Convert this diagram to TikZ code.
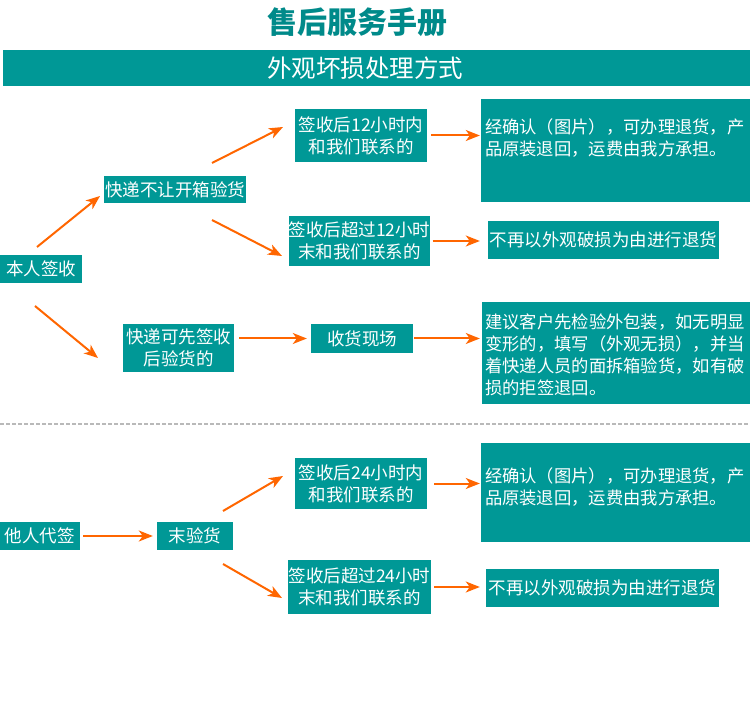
\documentclass[tikz,border=0pt]{standalone}
\usepackage{fontspec}
\setmainfont{Noto Sans CJK SC}
\usetikzlibrary{arrows.meta,calc}
\definecolor{tealbox}{RGB}{0,152,150}
\definecolor{titleteal}{RGB}{0,138,138}
\definecolor{arroworange}{RGB}{255,102,0}
\begin{document}
\begin{tikzpicture}[x=1pt,y=-1pt,
  box/.style={fill=tealbox, text=white, inner sep=0pt, font=\fontsize{17.5}{22}\selectfont, align=center},
  plain/.style={text=white, inner sep=0pt, font=\fontsize{17.3}{22}\selectfont, align=left},
  arr/.style={draw=arroworange, line width=2pt, -{Stealth[length=14pt,width=11pt,inset=4pt]}}]
\useasboundingbox[fill=white] (0,0) rectangle (750,727);
% title
\node[text=titleteal, font=\fontsize{30}{34}\selectfont\bfseries] (title) at (357,22) {售后服务手册};
% banner
\node[fill=tealbox, minimum width=747, minimum height=36, inner sep=0pt] (banner) at (376.5,68) {};
\node[text=white, font=\fontsize{24.5}{28}\selectfont, inner sep=0pt] (bannertext) at (365,68) {外观坏损处理方式};
% upper section
\node[box, minimum width=82, minimum height=28] (n1) at (41,269) {本人签收};
\node[box, minimum width=142, minimum height=27] (n2) at (175,189.5) {快递不让开箱验货};
\node[box, minimum width=132, minimum height=53] (n3) at (361,135.5) {签收后12小时内\\和我们联系的};
\node[box, minimum width=141, minimum height=50] (n4) at (359.5,241) {签收后超过12小时\\末和我们联系的};
\node[box, minimum width=269, minimum height=103] (r1) at (615.5,150.5) {};
\node[plain, anchor=north west] (r1t) at ($(r1.north west)+(4,20)$) {经确认（图片），可办理退货，产\\品原装退回，运费由我方承担。};
\node[box, minimum width=231, minimum height=38] (r2) at (603.5,240) {不再以外观破损为由进行退货};
\node[box, minimum width=111, minimum height=48] (n5) at (178.5,348) {快递可先签收\\后验货的};
\node[box, minimum width=102, minimum height=29] (n6) at (362,338.5) {收货现场};
\node[box, minimum width=268, minimum height=102] (r3) at (616,353) {};
\node[plain, anchor=west] (r3t) at (485,355) {建议客户先检验外包装，如无明显\\变形的，填写（外观无损），并当\\着快递人员的面拆箱验货，如有破\\损的拒签退回。};
% separator
\coordinate (sepl) at (0,424);
\coordinate (sepr) at (750,424);
\draw[gray!55, line width=1.5pt, dash pattern=on 4pt off 2pt] (sepl) -- (sepr);
% lower section
\node[box, minimum width=80, minimum height=28] (m1) at (40,536) {他人代签};
\node[box, minimum width=76, minimum height=28] (m2) at (195,536) {末验货};
\node[box, minimum width=132, minimum height=51] (m3) at (361,483.5) {签收后24小时内\\和我们联系的};
\node[box, minimum width=143, minimum height=54] (m4) at (359.5,587) {签收后超过24小时\\末和我们联系的};
\node[box, minimum width=269, minimum height=99] (r4) at (615.5,492.5) {};
\node[plain, anchor=north west] (r4t) at ($(r4.north west)+(4,25)$) {经确认（图片），可办理退货，产\\品原装退回，运费由我方承担。};
\node[box, minimum width=233, minimum height=38] (r5) at (602.5,588) {不再以外观破损为由进行退货};
% arrow end points
\coordinate (a1s) at (37,247);  \coordinate (a1e) at (100,196);
\coordinate (a2s) at (212,163); \coordinate (a2e) at (283,127);
\coordinate (a3s) at (212,220); \coordinate (a3e) at (282,256);
\coordinate (a6s) at (35,306);  \coordinate (a6e) at (98,358);
\coordinate (b1s) at (223,511); \coordinate (b1e) at (283,476);
\coordinate (b2s) at (223,564); \coordinate (b2e) at (282,598);
% arrows
\draw[arr] (a1s) -- (a1e);
\draw[arr] (a2s) -- (a2e);
\draw[arr] (a3s) -- (a3e);
\draw[arr, shorten <=4pt, shorten >=1pt] (n3.east) -- (n3.east -| r1.west);
\draw[arr, shorten <=2pt, shorten >=8pt] (n4.east) -- (n4.east -| r2.west);
\draw[arr] (a6s) -- (a6e);
\draw[arr, shorten <=5pt, shorten >=4pt] (n5.east |- n6.west) -- (n6.west);
\draw[arr, shorten <=1pt, shorten >=2pt] (n6.east) -- (n6.east -| r3.west);
\draw[arr, shorten <=3pt, shorten >=4pt] (m1.east) -- (m2.west);
\draw[arr] (b1s) -- (b1e);
\draw[arr] (b2s) -- (b2e);
\draw[arr, shorten <=7pt, shorten >=1pt] (m3.east) -- (m3.east -| r4.west);
\draw[arr, shorten <=3pt, shorten >=6pt] (m4.east) -- (m4.east -| r5.west);
\end{tikzpicture}
\end{document}
